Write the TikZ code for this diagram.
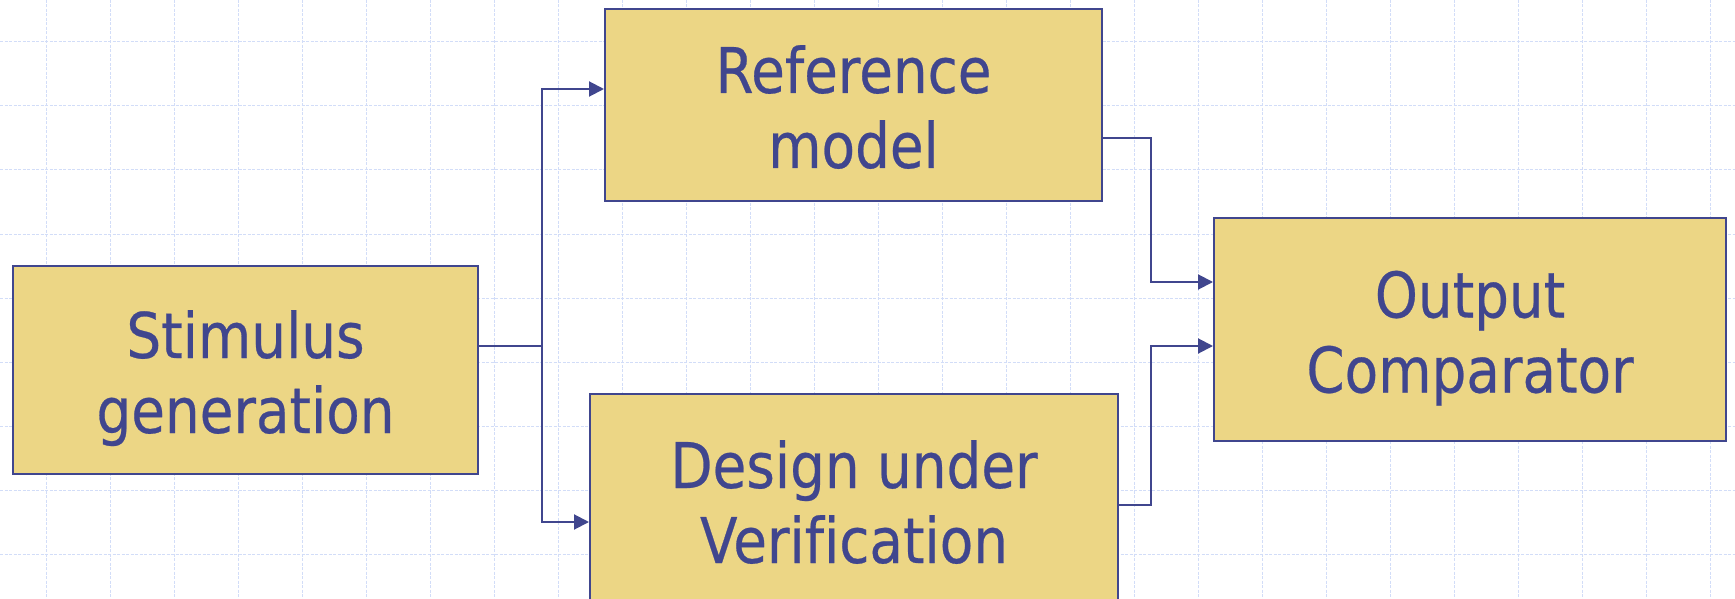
\documentclass[tikz,border=0pt]{standalone}
\usepackage{fontspec}
\newfontfamily\boxfont[FakeStretch=0.87,FakeBold=0.4,Ligatures=NoCommon]{DejaVu Sans}
\usetikzlibrary{arrows.meta}
\definecolor{boxfill}{RGB}{236,214,133}
\definecolor{boxline}{RGB}{64,70,142}
\definecolor{gridblue}{RGB}{210,221,248}
% two centred lines, struts keep them placed alike in every box
\newcommand{\boxtext}[2]{\rule{0pt}{33pt}#1\\#2\rule[-7.5pt]{0pt}{7.5pt}}
\tikzstyle{Box} = [
draw=boxline,
fill=boxfill,
line width=1pt,
inner sep=0pt,
align=center,
text=boxline,
font=\boxfont\fontsize{31.5}{37.5}\selectfont
]
\tikzstyle{Arrow} = [
draw=boxline,
line width=1pt,
-{Triangle[length=7.5pt,width=7.5pt]}
]
\tikzstyle{Line} = [draw=boxline, line width=1pt]
\tikzstyle{Grid} = [gridblue, line width=0.5pt, dash pattern=on 1.5pt off 0.75pt]

\begin{document}
\begin{tikzpicture}[x=0.5pt,y=-0.5pt]
   \useasboundingbox (0,0) rectangle (1735,599);
   \clip (0,0) rectangle (1735,599);
   \fill[white] (0,0) rectangle (1735,599);
   % background grid
   \foreach \gx in {46,110,...,1710} \draw[Grid] (\gx,0) -- (\gx,599);
   \foreach \gy in {42,106,...,554} \draw[Grid] (0,\gy) -- (1735,\gy);

   \node[Box, minimum width=232.5pt, minimum height=104pt] (stim) at (245.5,370) {\boxtext{Stimulus}{generation}};
   \node[Box, minimum width=248.5pt, minimum height=96pt] (ref) at (853.5,105) {\boxtext{Reference}{model}};
   \node[Box, minimum width=264pt, minimum height=106pt] (duv) at (854,500) {\boxtext{Design under}{Verification}};
   \node[Box, minimum width=256pt, minimum height=111.5pt] (cmp) at (1470,329.5) {\boxtext{Output}{Comparator}};
   \coordinate (split) at (542,346);

   \draw[Line] ([yshift=12pt]stim.east) -- (split);
   \draw[Arrow] (split) |- ([yshift=8pt]ref.west);
   \draw[Arrow] (split) |- ([yshift=-11pt]duv.west);
   \draw[Arrow] ([yshift=-16.5pt]ref.east) -- ++(48,0) |- ([yshift=23.75pt]cmp.west);
   \draw[Arrow] ([yshift=-2.5pt]duv.east) -- ++(32,0) |- ([yshift=-8.25pt]cmp.west);
\end{tikzpicture}
\end{document}
